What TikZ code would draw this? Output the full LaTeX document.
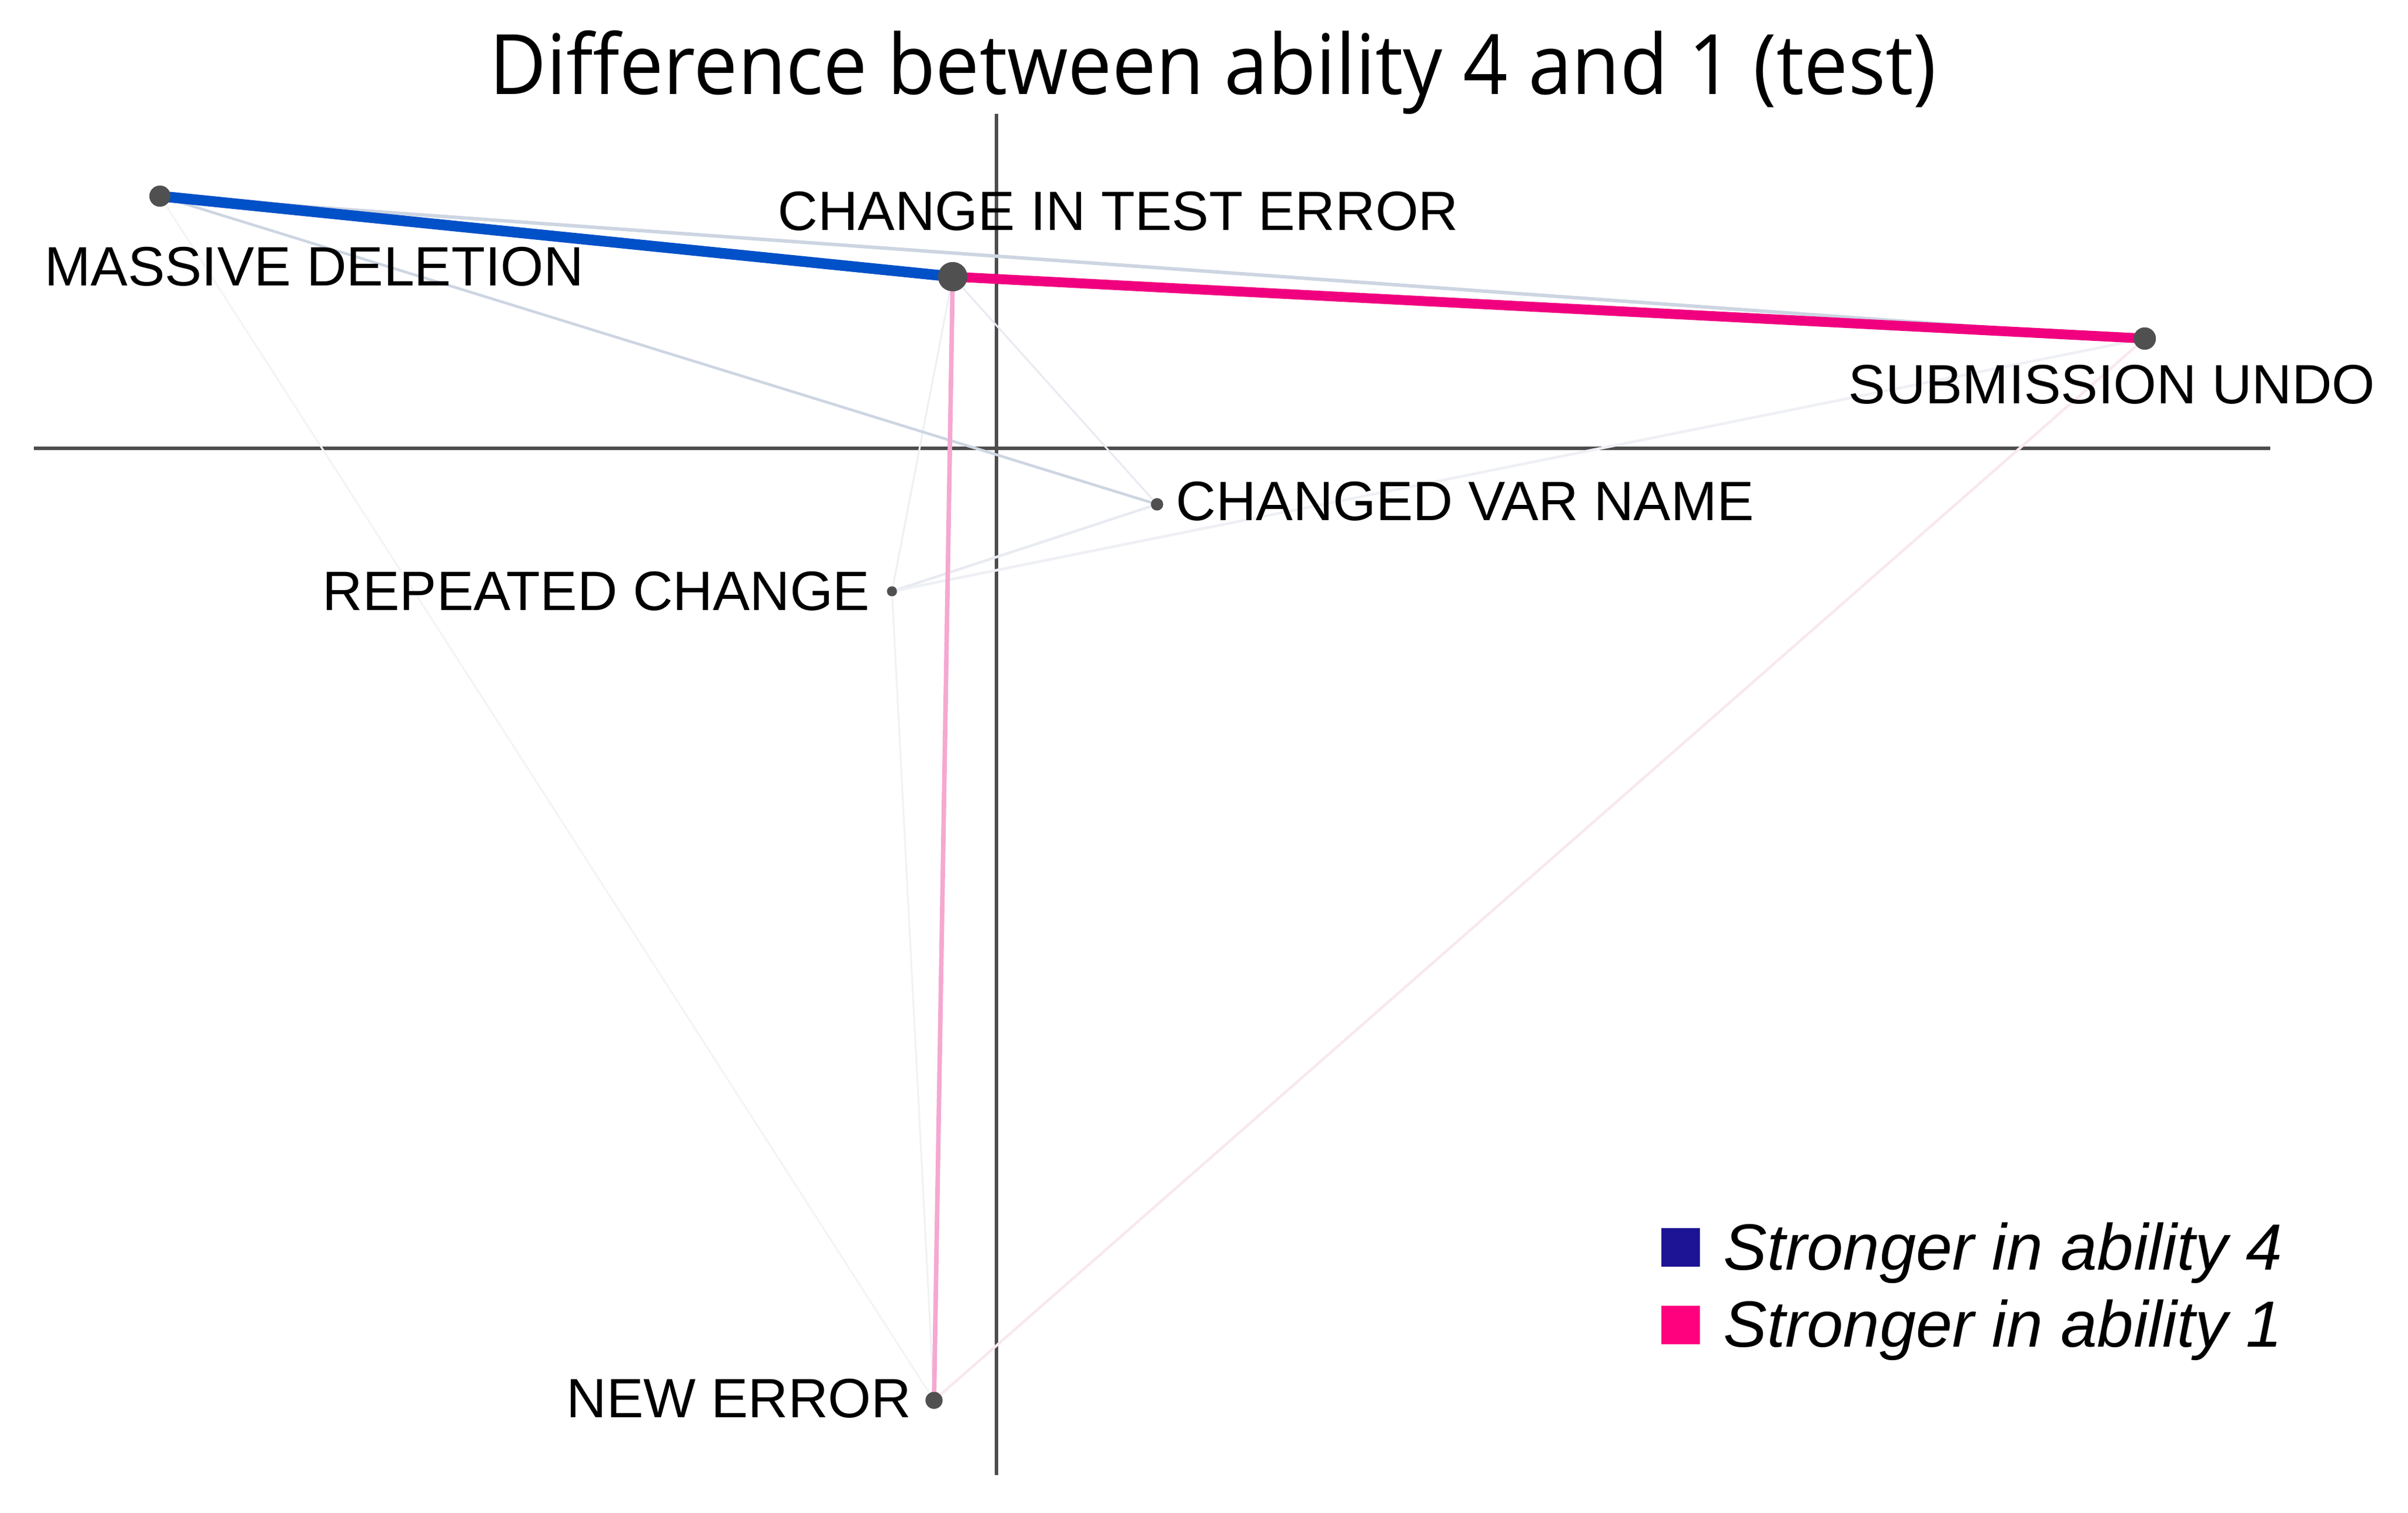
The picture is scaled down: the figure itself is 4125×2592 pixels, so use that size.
\documentclass[tikz,border=0pt]{standalone}
\usepackage{fontspec}
\setmainfont{Liberation Sans}
\newfontfamily\titlefont[FakeStretch=0.94]{Open Sans}
\usepackage{tikz}
\usetikzlibrary{positioning}

\definecolor{axisgrey}{RGB}{77,77,77}
\definecolor{dotgrey}{RGB}{80,80,80}
\definecolor{strongfour}{RGB}{0,80,200}
\definecolor{strongone}{RGB}{240,0,127}
\definecolor{softpink}{RGB}{245,168,208}
\definecolor{faintblue}{RGB}{205,213,226}
\definecolor{paleblue}{RGB}{226,230,238}
\definecolor{palepink}{RGB}{246,222,234}
\definecolor{legfour}{RGB}{28,20,148}
\definecolor{legone}{RGB}{255,0,127}

\tikzset{
    dot/.style={circle, fill=dotgrey, inner sep=0, minimum size=#1},
    lbl/.style={inner sep=0, font=\fontsize{27}{32}\selectfont},
    legtxt/.style={inner sep=0, font=\fontsize{31.8}{38}\selectfont\itshape},
    legsq/.style={rectangle, inner sep=0, minimum size=0.66cm},
    axis/.style={draw=axisgrey, line width=1.8pt},
    faint/.style={draw=#1, line width=1.3pt},
}

\begin{document}
\begin{tikzpicture}[x=0.01cm, y=-0.01cm]
    \useasboundingbox (0,0) rectangle (4125,2592);

    \node [inner sep=0, font=\titlefont\fontsize{40.6}{48}\selectfont, anchor=base] (title) at (2078,162) {Difference between ability 4 and 1 (test)};

    % axes
    \coordinate (x_left) at (58,768);
    \coordinate (x_right) at (3889,768);
    \coordinate (y_top) at (1707,195);
    \coordinate (y_bottom) at (1707,2527);
    \draw [axis] (x_left) -- (x_right);
    \draw [axis] (y_top) -- (y_bottom);

    % nodes
    \node [dot=3.6mm] (massive_deletion) at (274,336) {};
    \node [dot=5mm] (change_test_error) at (1632,474) {};
    \node [dot=3.8mm] (submission_undo) at (3674,580) {};
    \node [dot=2.1mm] (changed_var_name) at (1982,864) {};
    \node [dot=1.7mm] (repeated_change) at (1528,1013) {};
    \node [dot=2.9mm] (new_error) at (1600,2399) {};

    % weak edges
    \draw [faint=paleblue!45, line width=0.9pt] (massive_deletion.center) -- (new_error.center);
    \draw [faint=paleblue!50, line width=0.9pt] (repeated_change.center) -- (new_error.center);
    \draw [faint=paleblue!60, line width=0.9pt] (repeated_change.center) -- (change_test_error.center);
    \draw [faint=paleblue!80, line width=0.9pt] (change_test_error.center) -- (changed_var_name.center);
    \draw [faint=paleblue!80] (repeated_change.center) -- (changed_var_name.center);
    \draw [faint=paleblue!60] (repeated_change.center) -- (submission_undo.center);
    \draw [faint=palepink!70] (submission_undo.center) -- (new_error.center);
    \draw [faint=faintblue] (massive_deletion.center) -- (changed_var_name.center);
    \draw [faint=faintblue, line width=1.7pt] (massive_deletion.center) -- (submission_undo.center);

    % strong edges
    \draw [draw=softpink, line width=2.2pt] (change_test_error.center) -- (new_error.center);
    \draw [draw=strongfour, line width=5.2pt] (massive_deletion.center) -- (change_test_error.center);
    \draw [draw=strongone, line width=4.8pt] (change_test_error.center) -- (submission_undo.center);

    % dots again on top of the edges
    \node [dot=3.6mm] at (massive_deletion) {};
    \node [dot=5mm] at (change_test_error) {};
    \node [dot=3.8mm] at (submission_undo) {};
    \node [dot=2.1mm] at (changed_var_name) {};
    \node [dot=1.7mm] at (repeated_change) {};
    \node [dot=2.9mm] at (new_error) {};

    % labels
    \node [lbl, anchor=base west] (massive_deletion_lbl) at (76,490) {MASSIVE DELETION};
    \node [lbl, anchor=base west] (change_test_error_lbl) at (1332,395) {CHANGE IN TEST ERROR};
    \node [lbl, anchor=base west] (submission_undo_lbl) at (3166,692) {SUBMISSION UNDO};
    \node [lbl, anchor=base west] (changed_var_name_lbl) at (2014,892) {CHANGED VAR NAME};
    \node [lbl, anchor=base east] (repeated_change_lbl) at (1491,1045) {REPEATED CHANGE};
    \node [lbl, anchor=base east] (new_error_lbl) at (1562,2428) {NEW ERROR};

    % legend
    \node [legsq, fill=legfour] (legend_four) at (2879,2137) {};
    \node [legsq, fill=legone] (legend_one) at (2879,2270) {};
    \node [legtxt, anchor=base west] (legend_four_txt) at (2952,2175) {Stronger in ability 4};
    \node [legtxt, anchor=base west] (legend_one_txt) at (2952,2307) {Stronger in ability 1};
\end{tikzpicture}
\end{document}
